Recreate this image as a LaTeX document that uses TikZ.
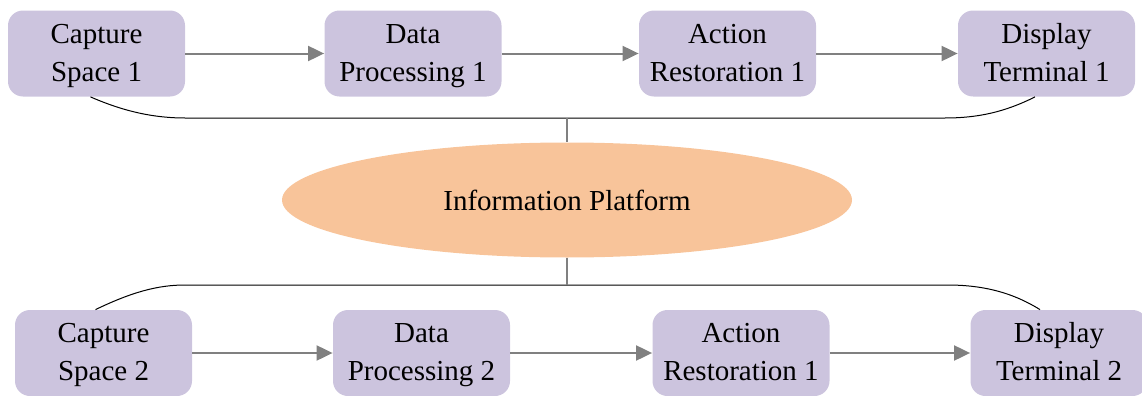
\documentclass[tikz,border=0pt]{standalone}
\usepackage{fontspec}
\setmainfont{Liberation Serif}
\newfontfamily\timesfont{Liberation Serif}
\usetikzlibrary{shapes.geometric,arrows.meta}

\definecolor{stagefill}{RGB}{204,196,222}
\definecolor{platfill}{RGB}{248,196,154}
\definecolor{flowgray}{RGB}{128,128,128}

\begin{document}
\begin{tikzpicture}[x=0.5pt,y=-0.5pt,
    stage/.style={fill=stagefill,rounded corners=7.5pt,minimum width=88.5pt,minimum height=43pt,
        inner sep=0pt,align=center,text height=29pt,text depth=1.5pt,
        font=\timesfont\fontsize{14.5}{19}\selectfont},
    platform/.style={ellipse,fill=platfill,minimum width=285pt,minimum height=57.5pt,
        inner sep=0pt,font=\timesfont\fontsize{14.5}{19}\selectfont},
    flow/.style={draw=flowgray,line width=1pt,-{Triangle[length=8pt,width=7.5pt]}},
    link/.style={draw=black,line width=0.5pt},
    stem/.style={draw=flowgray,line width=1pt}]

    \useasboundingbox (0,0) rectangle (1142,396);

    % first chain
    \node[stage] (cap1) at (96.5,53.5) {Capture\\Space 1};
    \node[stage] (proc1) at (413,53.5) {Data\\Processing 1};
    \node[stage] (act1) at (727.5,53.5) {Action\\Restoration 1};
    \node[stage] (disp1) at (1046.5,53.5) {Display\\Terminal 1};

    % second chain
    \node[stage] (cap2) at (103.5,353) {Capture\\Space 2};
    \node[stage] (proc2) at (421.5,353) {Data\\Processing 2};
    \node[stage] (act2) at (741,353) {Action\\Restoration 1};
    \node[stage] (disp2) at (1059,353) {Display\\Terminal 2};

    \node[platform] (info) at (567,200) {Information Platform};

    \draw[flow] (cap1) -- (proc1);
    \draw[flow] (proc1) -- (act1);
    \draw[flow] (act1) -- (disp1);
    \draw[flow] (cap2) -- (proc2);
    \draw[flow] (proc2) -- (act2);
    \draw[flow] (act2) -- (disp2);

    % brackets to the platform
    \coordinate (topmid) at (567,118);
    \coordinate (topleft) at (185,118);
    \coordinate (topright) at (945,118);
    \coordinate (botmid) at (567,285);
    \coordinate (botleft) at (185,285);
    \coordinate (botright) at (947,285);

    \draw[link] ([xshift=-3pt]cap1.south) .. controls (125,112) and (155,118) .. (topleft)
        -- (topright) .. controls (978,118) and (1005,112) .. ([xshift=-5.75pt]disp1.south);
    \draw[link] ([xshift=-4pt]cap2.north) .. controls (132,292) and (158,285) .. (botleft)
        -- (botright) .. controls (980,285) and (1010,291) .. ([xshift=-9.5pt]disp2.north);
    \draw[stem] (topmid) -- (info.north);
    \draw[stem] (info.south) -- (botmid);
\end{tikzpicture}
\end{document}
